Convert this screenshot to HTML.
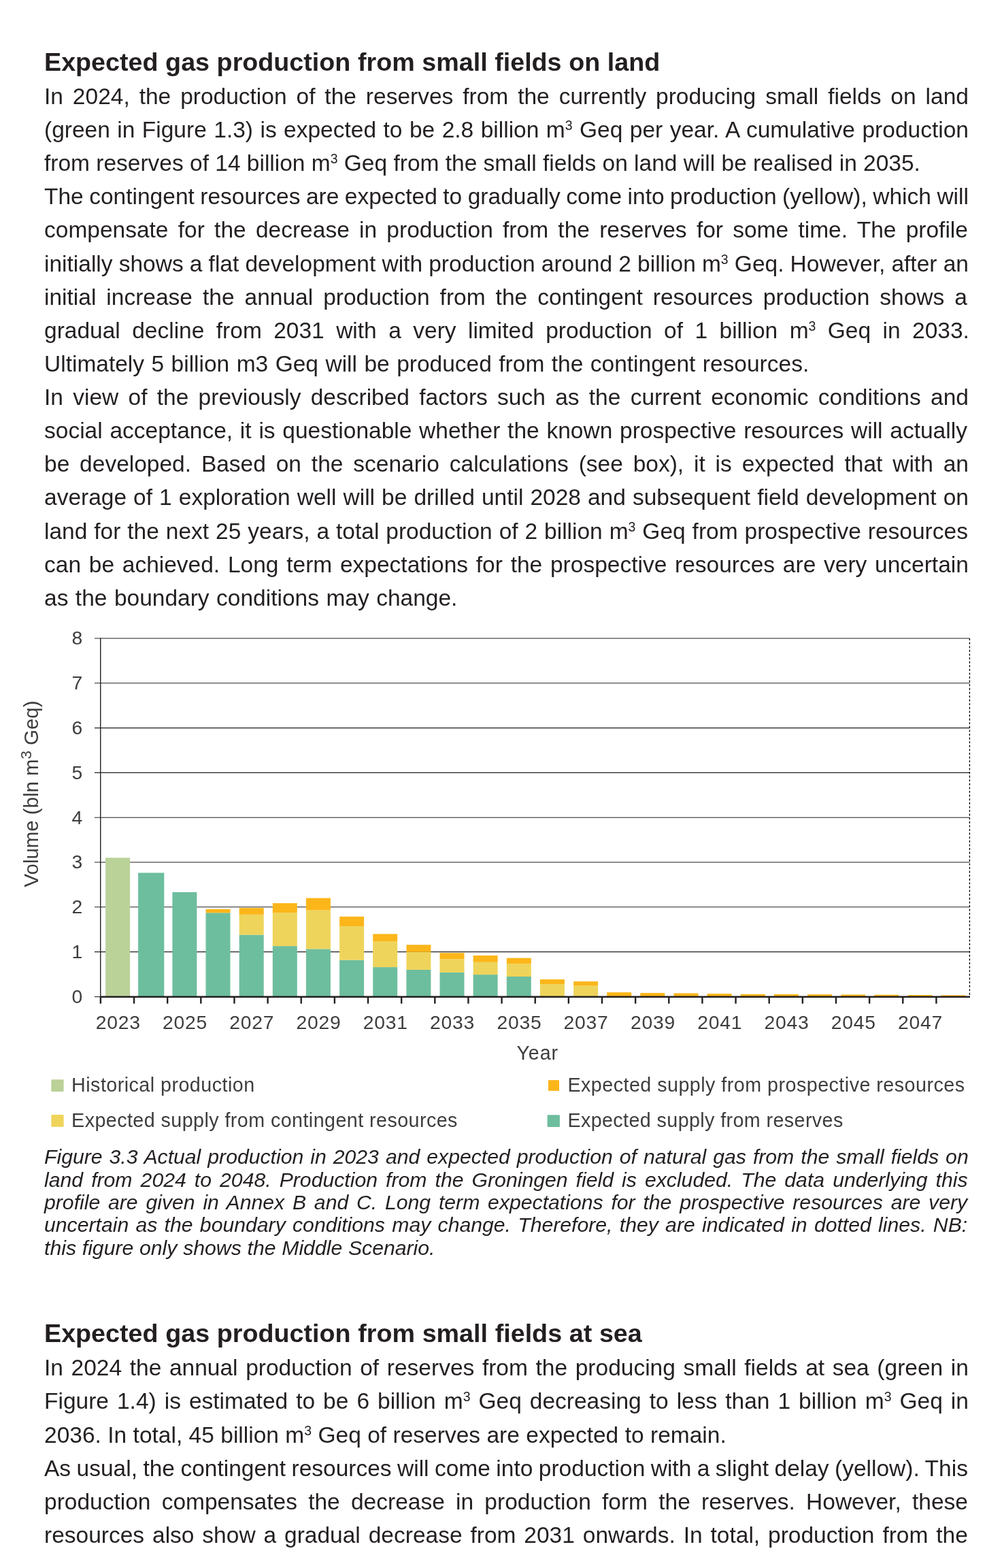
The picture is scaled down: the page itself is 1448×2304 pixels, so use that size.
<!DOCTYPE html>
<html lang="en"><head><meta charset="utf-8"><title>Expected gas production from small fields</title>
<style>
html,body{margin:0;padding:0;background:#fff}
body{width:1448px;height:2304px;position:relative;overflow:hidden;font-family:"Liberation Sans",sans-serif;color:#231f20}
p,h2,figure,figcaption,section{margin:0;padding:0;font-weight:normal;font-size:inherit}
.l{position:absolute;left:65px;display:block;white-space:nowrap;line-height:1;margin:0}
.b{font-size:33.5px}
.h{font-size:37.7px;font-weight:bold}
.c{font-size:30.2px;font-style:italic}
sup{font-size:58%;vertical-align:baseline;position:relative;top:-0.555em;line-height:0}
</style></head>
<body>
<section>
<h2 class="l h" style="top:73px;word-spacing:0.078px">Expected gas production from small fields on land</h2>
<p>
<span class="l b" style="top:125px;word-spacing:4.622px">In 2024, the production of the reserves from the currently producing small fields on land</span>
<span class="l b" style="top:174px;word-spacing:1.156px">(green in Figure 1.3) is expected to be 2.8 billion m<sup>3</sup> Geq per year. A cumulative production</span>
<span class="l b" style="top:223px;word-spacing:-0.014px">from reserves of 14 billion m<sup>3</sup> Geq from the small fields on land will be realised in 2035.</span>
</p>
<p>
<span class="l b" style="top:272px;word-spacing:-0.809px">The contingent resources are expected to gradually come into production (yellow), which will</span>
<span class="l b" style="top:321px;word-spacing:4.955px">compensate for the decrease in production from the reserves for some time. The profile</span>
<span class="l b" style="top:371px;word-spacing:-0.139px">initially shows a flat development with production around 2 billion m<sup>3</sup> Geq. However, after an</span>
<span class="l b" style="top:420px;word-spacing:5.697px">initial increase the annual production from the contingent resources production shows a</span>
<span class="l b" style="top:469px;word-spacing:8.128px">gradual decline from 2031 with a very limited production of 1 billion m<sup>3</sup> Geq in 2033.</span>
<span class="l b" style="top:518px;word-spacing:1.143px">Ultimately 5 billion m3 Geq will be produced from the contingent resources.</span>
</p>
<p>
<span class="l b" style="top:567px;word-spacing:4.980px">In view of the previously described factors such as the current economic conditions and</span>
<span class="l b" style="top:616px;word-spacing:1.471px">social acceptance, it is questionable whether the known prospective resources will actually</span>
<span class="l b" style="top:665px;word-spacing:5.548px">be developed. Based on the scenario calculations (see box), it is expected that with an</span>
<span class="l b" style="top:714px;word-spacing:0.755px">average of 1 exploration well will be drilled until 2028 and subsequent field development on</span>
<span class="l b" style="top:764px;word-spacing:0.631px">land for the next 25 years, a total production of 2 billion m<sup>3</sup> Geq from prospective resources</span>
<span class="l b" style="top:813px;word-spacing:2.443px">can be achieved. Long term expectations for the prospective resources are very uncertain</span>
<span class="l b" style="top:862px;word-spacing:1.174px">as the boundary conditions may change.</span>
</p>
<figure>
<svg style="position:absolute;left:0;top:900px" width="1448" height="780" viewBox="0 900 1448 780" font-family="'Liberation Sans', sans-serif">
<line x1="139" x2="1425.4" y1="938.00" y2="938.00" stroke="#231f20" stroke-width="1.1"/>
<line x1="139" x2="1425.4" y1="1003.80" y2="1003.80" stroke="#231f20" stroke-width="1.1"/>
<line x1="139" x2="1425.4" y1="1069.60" y2="1069.60" stroke="#231f20" stroke-width="1.1"/>
<line x1="139" x2="1425.4" y1="1135.40" y2="1135.40" stroke="#231f20" stroke-width="1.1"/>
<line x1="139" x2="1425.4" y1="1201.20" y2="1201.20" stroke="#231f20" stroke-width="1.1"/>
<line x1="139" x2="1425.4" y1="1267.00" y2="1267.00" stroke="#231f20" stroke-width="1.1"/>
<line x1="139" x2="1425.4" y1="1332.80" y2="1332.80" stroke="#231f20" stroke-width="1.1"/>
<line x1="139" x2="1425.4" y1="1398.60" y2="1398.60" stroke="#231f20" stroke-width="1.1"/>
<line x1="139" x2="148" y1="1464.60" y2="1464.60" stroke="#231f20" stroke-width="1.1"/>
<line x1="147.75" x2="147.75" y1="937.4" y2="1465.6" stroke="#231f20" stroke-width="1.4"/>
<line x1="1425.4" x2="1425.4" y1="938.0" y2="1464.6" stroke="#000" stroke-width="1.3" stroke-dasharray="3.1 2.5"/>
<rect x="155.1" y="1260.4" width="36.0" height="204.2" fill="#bad198"/>
<rect x="203.1" y="1282.5" width="38.2" height="182.1" fill="#6dbe9e"/>
<rect x="253.4" y="1310.9" width="36.0" height="153.7" fill="#6dbe9e"/>
<rect x="302.5" y="1341.3" width="36.0" height="123.3" fill="#6dbe9e"/>
<rect x="302.5" y="1335.8" width="36.0" height="5.5" fill="#fcb61a"/>
<rect x="351.7" y="1373.6" width="36.0" height="91.0" fill="#6dbe9e"/>
<rect x="351.7" y="1343.8" width="36.0" height="29.8" fill="#eed45a"/>
<rect x="351.7" y="1334.1" width="36.0" height="9.7" fill="#fcb61a"/>
<rect x="400.8" y="1390.1" width="36.0" height="74.5" fill="#6dbe9e"/>
<rect x="400.8" y="1341.3" width="36.0" height="48.8" fill="#eed45a"/>
<rect x="400.8" y="1327.1" width="36.0" height="14.2" fill="#fcb61a"/>
<rect x="449.9" y="1394.4" width="36.0" height="70.2" fill="#6dbe9e"/>
<rect x="449.9" y="1337.3" width="36.0" height="57.1" fill="#eed45a"/>
<rect x="449.9" y="1319.6" width="36.0" height="17.7" fill="#fcb61a"/>
<rect x="499.1" y="1410.6" width="36.0" height="54.0" fill="#6dbe9e"/>
<rect x="499.1" y="1361.1" width="36.0" height="49.5" fill="#eed45a"/>
<rect x="499.1" y="1346.8" width="36.0" height="14.3" fill="#fcb61a"/>
<rect x="548.2" y="1421.1" width="36.0" height="43.5" fill="#6dbe9e"/>
<rect x="548.2" y="1383.1" width="36.0" height="38.0" fill="#eed45a"/>
<rect x="548.2" y="1372.4" width="36.0" height="10.7" fill="#fcb61a"/>
<rect x="597.4" y="1424.9" width="36.0" height="39.7" fill="#6dbe9e"/>
<rect x="597.4" y="1398.8" width="36.0" height="26.1" fill="#eed45a"/>
<rect x="597.4" y="1388.3" width="36.0" height="10.5" fill="#fcb61a"/>
<rect x="646.5" y="1428.9" width="36.0" height="35.7" fill="#6dbe9e"/>
<rect x="646.5" y="1409.2" width="36.0" height="19.7" fill="#eed45a"/>
<rect x="646.5" y="1400.2" width="36.0" height="9.0" fill="#fcb61a"/>
<rect x="695.6" y="1432.1" width="36.0" height="32.5" fill="#6dbe9e"/>
<rect x="695.6" y="1413.8" width="36.0" height="18.3" fill="#eed45a"/>
<rect x="695.6" y="1404.0" width="36.0" height="9.8" fill="#fcb61a"/>
<rect x="744.8" y="1435.0" width="36.0" height="29.6" fill="#6dbe9e"/>
<rect x="744.8" y="1416.2" width="36.0" height="18.8" fill="#eed45a"/>
<rect x="744.8" y="1407.7" width="36.0" height="8.5" fill="#fcb61a"/>
<rect x="793.9" y="1446.1" width="36.0" height="18.5" fill="#eed45a"/>
<rect x="793.9" y="1439.1" width="36.0" height="7.0" fill="#fcb61a"/>
<rect x="843.1" y="1448.0" width="36.0" height="16.6" fill="#eed45a"/>
<rect x="843.1" y="1442.1" width="36.0" height="5.9" fill="#fcb61a"/>
<rect x="892.2" y="1458.1" width="36.0" height="6.5" fill="#fcb61a"/>
<rect x="941.3" y="1459.0" width="36.0" height="5.6" fill="#fcb61a"/>
<rect x="990.5" y="1459.4" width="36.0" height="5.2" fill="#fcb61a"/>
<rect x="1039.6" y="1460.1" width="36.0" height="4.5" fill="#fcb61a"/>
<rect x="1088.8" y="1460.8" width="36.0" height="3.8" fill="#fcb61a"/>
<rect x="1137.9" y="1460.9" width="36.0" height="3.7" fill="#fcb61a"/>
<rect x="1187.0" y="1461.1" width="36.0" height="3.5" fill="#fcb61a"/>
<rect x="1236.2" y="1461.4" width="36.0" height="3.2" fill="#fcb61a"/>
<rect x="1285.3" y="1461.7" width="36.0" height="2.9" fill="#fcb61a"/>
<rect x="1334.5" y="1462.0" width="36.0" height="2.6" fill="#fcb61a"/>
<rect x="1383.6" y="1462.3" width="36.0" height="2.3" fill="#fcb61a"/>
<line x1="147.1" x2="1426" y1="1464.75" y2="1464.75" stroke="#231f20" stroke-width="2.5"/>
<line x1="147.90" x2="147.90" y1="1464.6" y2="1474.7" stroke="#231f20" stroke-width="2.4"/>
<line x1="197.04" x2="197.04" y1="1464.6" y2="1474.7" stroke="#231f20" stroke-width="2.4"/>
<line x1="246.18" x2="246.18" y1="1464.6" y2="1474.7" stroke="#231f20" stroke-width="2.4"/>
<line x1="295.32" x2="295.32" y1="1464.6" y2="1474.7" stroke="#231f20" stroke-width="2.4"/>
<line x1="344.46" x2="344.46" y1="1464.6" y2="1474.7" stroke="#231f20" stroke-width="2.4"/>
<line x1="393.60" x2="393.60" y1="1464.6" y2="1474.7" stroke="#231f20" stroke-width="2.4"/>
<line x1="442.74" x2="442.74" y1="1464.6" y2="1474.7" stroke="#231f20" stroke-width="2.4"/>
<line x1="491.88" x2="491.88" y1="1464.6" y2="1474.7" stroke="#231f20" stroke-width="2.4"/>
<line x1="541.02" x2="541.02" y1="1464.6" y2="1474.7" stroke="#231f20" stroke-width="2.4"/>
<line x1="590.16" x2="590.16" y1="1464.6" y2="1474.7" stroke="#231f20" stroke-width="2.4"/>
<line x1="639.30" x2="639.30" y1="1464.6" y2="1474.7" stroke="#231f20" stroke-width="2.4"/>
<line x1="688.44" x2="688.44" y1="1464.6" y2="1474.7" stroke="#231f20" stroke-width="2.4"/>
<line x1="737.58" x2="737.58" y1="1464.6" y2="1474.7" stroke="#231f20" stroke-width="2.4"/>
<line x1="786.72" x2="786.72" y1="1464.6" y2="1474.7" stroke="#231f20" stroke-width="2.4"/>
<line x1="835.86" x2="835.86" y1="1464.6" y2="1474.7" stroke="#231f20" stroke-width="2.4"/>
<line x1="885.00" x2="885.00" y1="1464.6" y2="1474.7" stroke="#231f20" stroke-width="2.4"/>
<line x1="934.14" x2="934.14" y1="1464.6" y2="1474.7" stroke="#231f20" stroke-width="2.4"/>
<line x1="983.28" x2="983.28" y1="1464.6" y2="1474.7" stroke="#231f20" stroke-width="2.4"/>
<line x1="1032.42" x2="1032.42" y1="1464.6" y2="1474.7" stroke="#231f20" stroke-width="2.4"/>
<line x1="1081.56" x2="1081.56" y1="1464.6" y2="1474.7" stroke="#231f20" stroke-width="2.4"/>
<line x1="1130.70" x2="1130.70" y1="1464.6" y2="1474.7" stroke="#231f20" stroke-width="2.4"/>
<line x1="1179.84" x2="1179.84" y1="1464.6" y2="1474.7" stroke="#231f20" stroke-width="2.4"/>
<line x1="1228.98" x2="1228.98" y1="1464.6" y2="1474.7" stroke="#231f20" stroke-width="2.4"/>
<line x1="1278.12" x2="1278.12" y1="1464.6" y2="1474.7" stroke="#231f20" stroke-width="2.4"/>
<line x1="1327.26" x2="1327.26" y1="1464.6" y2="1474.7" stroke="#231f20" stroke-width="2.4"/>
<line x1="1376.40" x2="1376.40" y1="1464.6" y2="1474.7" stroke="#231f20" stroke-width="2.4"/>
<g fill="#3d3d3d" font-size="28.3" text-anchor="middle">
<text x="173.7" y="1512" letter-spacing="0.75">2023</text>
<text x="271.9" y="1512" letter-spacing="0.75">2025</text>
<text x="370.2" y="1512" letter-spacing="0.75">2027</text>
<text x="468.5" y="1512" letter-spacing="0.75">2029</text>
<text x="566.8" y="1512" letter-spacing="0.75">2031</text>
<text x="665.1" y="1512" letter-spacing="0.75">2033</text>
<text x="763.4" y="1512" letter-spacing="0.75">2035</text>
<text x="861.6" y="1512" letter-spacing="0.75">2037</text>
<text x="959.9" y="1512" letter-spacing="0.75">2039</text>
<text x="1058.2" y="1512" letter-spacing="0.75">2041</text>
<text x="1156.5" y="1512" letter-spacing="0.75">2043</text>
<text x="1254.8" y="1512" letter-spacing="0.75">2045</text>
<text x="1353.0" y="1512" letter-spacing="0.75">2047</text>
<text x="113.4" y="947.4">8</text>
<text x="113.4" y="1013.2">7</text>
<text x="113.4" y="1079.0">6</text>
<text x="113.4" y="1144.8">5</text>
<text x="113.4" y="1210.6">4</text>
<text x="113.4" y="1276.4">3</text>
<text x="113.4" y="1342.2">2</text>
<text x="113.4" y="1408.0">1</text>
<text x="113.4" y="1473.8">0</text>
</g>
<text x="790.2" y="1556.5" fill="#3d3d3d" font-size="28.6" letter-spacing="0.9" text-anchor="middle">Year</text>
<text transform="translate(55.9 1166.5) rotate(-90)" fill="#3d3d3d" font-size="29.4" text-anchor="middle">Volume (bln m<tspan font-size="22.5" dy="-9.9">3</tspan><tspan dy="9.9"> Geq)</tspan></text>
<rect x="75.4" y="1586.3" width="18.2" height="17.7" rx="1" fill="#bad198"/>
<rect x="75.4" y="1638" width="18.2" height="17.7" rx="1" fill="#eed45a"/>
<rect x="806" y="1587.1" width="16" height="15.8" fill="#fcb61a"/>
<rect x="804.6" y="1638.2" width="18.3" height="17.7" rx="1" fill="#6dbe9e"/>
<g fill="#3d3d3d" font-size="28.7">
<text x="105.1" y="1604.4" textLength="269.0" lengthAdjust="spacing">Historical production</text>
<text x="105.1" y="1656.4" textLength="567.3" lengthAdjust="spacing">Expected supply from contingent resources</text>
<text x="834.4" y="1603.9" textLength="583.6" lengthAdjust="spacing">Expected supply from prospective resources</text>
<text x="834.4" y="1656.1" textLength="404.9" lengthAdjust="spacing">Expected supply from reserves</text>
</g>
</svg>
<figcaption>
<span class="l c" style="top:1685px;word-spacing:1.608px">Figure 3.3 Actual production in 2023 and expected production of natural gas from the small fields on</span>
<span class="l c" style="top:1719px;word-spacing:3.685px">land from 2024 to 2048. Production from the Groningen field is excluded. The data underlying this</span>
<span class="l c" style="top:1752px;word-spacing:3.402px">profile are given in Annex B and C. Long term expectations for the prospective resources are very</span>
<span class="l c" style="top:1785px;word-spacing:1.890px">uncertain as the boundary conditions may change. Therefore, they are indicated in dotted lines. NB:</span>
<span class="l c" style="top:1819px;word-spacing:0.385px">this figure only shows the Middle Scenario.</span>
</figcaption>
</figure>
</section>
<section>
<h2 class="l h" style="top:1941px;word-spacing:0.181px">Expected gas production from small fields at sea</h2>
<p>
<span class="l b" style="top:1993px;word-spacing:2.325px">In 2024 the annual production of reserves from the producing small fields at sea (green in</span>
<span class="l b" style="top:2042px;word-spacing:2.705px">Figure 1.4) is estimated to be 6 billion m<sup>3</sup> Geq decreasing to less than 1 billion m<sup>3</sup> Geq in</span>
<span class="l b" style="top:2092px;word-spacing:0.101px">2036. In total, 45 billion m<sup>3</sup> Geq of reserves are expected to remain.</span>
</p>
<p>
<span class="l b" style="top:2141px;word-spacing:-0.852px">As usual, the contingent resources will come into production with a slight delay (yellow). This</span>
<span class="l b" style="top:2190px;word-spacing:6.931px">production compensates the decrease in production form the reserves. However, these</span>
<span class="l b" style="top:2239px;word-spacing:2.609px">resources also show a gradual decrease from 2031 onwards. In total, production from the</span>
</p>
</section>
</body></html>
